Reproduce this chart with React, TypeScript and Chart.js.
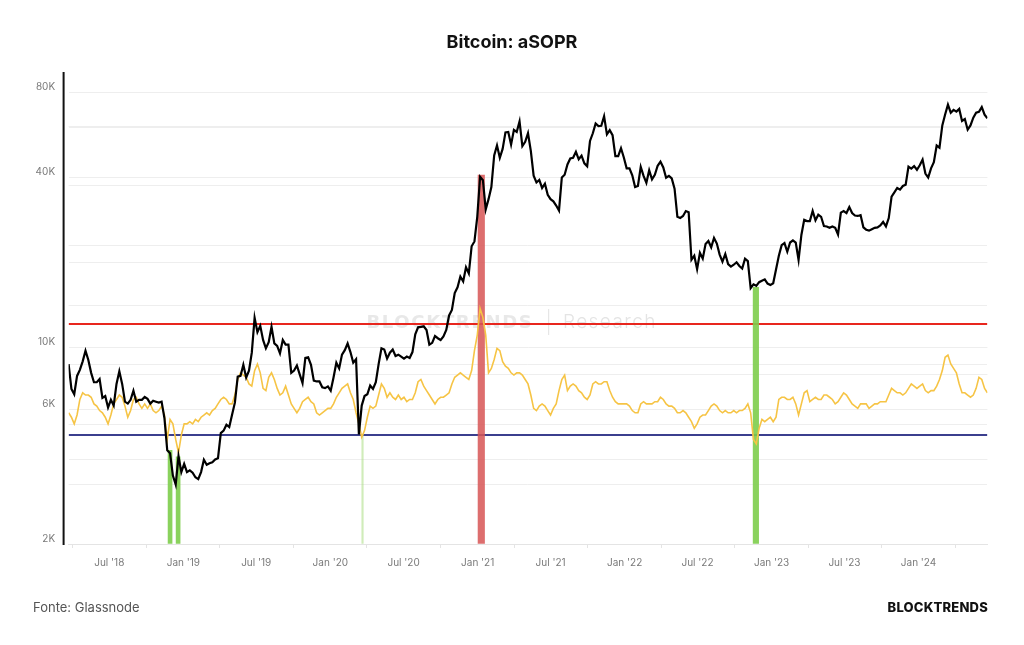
import { useEffect, useRef } from 'react';
import { Chart, registerables } from 'chart.js';

Chart.register(...registerables);

const DAY_MS = 86400000;
const toDay = (iso: string) => Date.parse(iso + 'T00:00:00Z') / DAY_MS;

// Weekly samples (Thursdays), first one on this date
const SERIES_START = '2018-03-22';
const SERIES_END = '2024-06-20';

// BTC price (USD), one value per week
const price2018 = [
  8700, 7100, 6800, 7900, 8300, 8900, 9700, 9000, 8100, 7500, 7500, 7700, 6600, 6700, 6100,
  6500, 6200, 7400, 8200, 7400, 6400, 6300, 6500, 7000, 6400, 6500, 6500, 6650, 6550, 6300,
  6450, 6400, 6350, 6400, 5600, 4300, 4200, 3500, 3250, 4100, 3600,
];
const price2019 = [
  3850, 3600, 3650, 3580, 3450, 3400, 3600, 3980, 3820, 3870, 3900, 3990, 4030, 4950, 5050,
  5300, 5200, 5750, 6350, 7850, 7900, 8650, 7800, 8250, 9550, 12700, 11300, 11900, 10600, 9900,
  10400, 11800, 10300, 10100, 9500, 10600, 10200, 10200, 8100, 8250, 8600, 8000, 7450, 9150,
  9200, 8650, 7600, 7550, 7550, 7200, 7150, 7250,
];
const price2020 = [
  7000, 7800, 8800, 8400, 9400, 9750, 10300, 9600, 8800, 9050, 4900, 6200, 6700, 6800, 7300,
  7100, 7500, 8700, 9900, 9800, 9100, 9550, 9800, 9300, 9400, 9250, 9100, 9250, 9150, 9600,
  11100, 11750, 11800, 11850, 11500, 10200, 10350, 10950, 10750, 10600, 10900, 11500, 12950,
  13550, 15550, 16300, 17800, 17100, 19200, 18250, 22800, 23700, 29000,
];
const price2021 = [
  40200, 39100, 30800, 33500, 37000, 47900, 52000, 47000, 50500, 57800, 58000, 52300, 59000,
  58000, 63200, 51700, 53500, 57400, 49700, 40600, 38400, 39200, 36700, 38000, 34700, 33500,
  32900, 31800, 30500, 40000, 40900, 44500, 46700, 47000, 49300, 46400, 47800, 44900, 43800,
  53900, 57400, 62200, 60900, 61000, 66000, 56900, 58900, 56500, 47600, 47600, 50800, 47100,
];
const price2022 = [
  43100, 43100, 40700, 37000, 37300, 43600, 40500, 38300, 42400, 39400, 40900, 44000, 45500,
  43400, 39900, 40500, 39700, 36500, 29000, 28700, 29200, 30400, 30100, 20400, 21100, 18900,
  21600, 20600, 23200, 23800, 22600, 24400, 23300, 21300, 20100, 21400, 19700, 19300, 19600,
  20000, 19400, 19000, 20600, 20200, 16200, 16700, 16500, 17000, 17200, 17400, 16800, 16600,
];
const price2023 = [
  16850, 18850, 21100, 23000, 23400, 21800, 23500, 23900, 23500, 20400, 25000, 28300, 28000,
  28000, 30400, 28200, 29500, 29000, 26900, 26800, 26500, 26800, 26500, 25100, 30000, 30400,
  29900, 31400, 29900, 29300, 29200, 29400, 26600, 26100, 25900, 26200, 26500, 26600, 27000,
  27800, 26800, 28700, 34200, 35400, 36700, 36200, 37300, 37700, 43700, 43000, 43900, 42600,
];
const price2024 = [
  44200, 46300, 41300, 40000, 43100, 45300, 51900, 51000, 61200, 66900, 72500, 67900, 69500,
  68500, 70000, 63500, 64500, 59100, 61200, 65200, 67900, 68400, 71100, 66800, 64900,
];

// aSOPR (smoothed), one value per week
const asopr2018 = [
  1.010, 1.008, 1.005, 1.009, 1.016, 1.019, 1.018, 1.018, 1.017, 1.014, 1.013, 1.011, 1.010,
  1.008, 1.005, 1.009, 1.014, 1.016, 1.018, 1.017, 1.013, 1.008, 1.011, 1.016, 1.017, 1.014,
  1.012, 1.014, 1.012, 1.014, 1.011, 1.010, 1.011, 1.013, 1.009, 0.998, 1.007, 1.005, 0.998,
  0.992, 1.000,
];
const asopr2019 = [
  1.005, 1.005, 1.006, 1.005, 1.007, 1.006, 1.008, 1.009, 1.010, 1.009, 1.011, 1.012, 1.014,
  1.016, 1.017, 1.016, 1.014, 1.014, 1.018, 1.025, 1.028, 1.027, 1.026, 1.023, 1.022, 1.029,
  1.032, 1.028, 1.021, 1.020, 1.026, 1.028, 1.025, 1.021, 1.018, 1.019, 1.022, 1.018, 1.014,
  1.012, 1.010, 1.012, 1.015, 1.016, 1.017, 1.015, 1.014, 1.010, 1.009, 1.010, 1.011, 1.012,
];
const asopr2020 = [
  1.012, 1.014, 1.017, 1.019, 1.021, 1.022, 1.023, 1.019, 1.016, 1.010, 1.005, 0.999, 1.002,
  1.008, 1.013, 1.012, 1.013, 1.018, 1.023, 1.021, 1.017, 1.019, 1.017, 1.016, 1.018, 1.016,
  1.017, 1.015, 1.016, 1.016, 1.019, 1.024, 1.025, 1.022, 1.020, 1.018, 1.016, 1.014, 1.016,
  1.017, 1.017, 1.018, 1.019, 1.023, 1.026, 1.027, 1.028, 1.027, 1.026, 1.025, 1.029, 1.038,
  1.045,
];
const asopr2021 = [
  1.057, 1.053, 1.045, 1.028, 1.030, 1.034, 1.039, 1.038, 1.033, 1.031, 1.030, 1.028, 1.027,
  1.028, 1.028, 1.027, 1.025, 1.023, 1.018, 1.012, 1.011, 1.013, 1.014, 1.013, 1.011, 1.009,
  1.012, 1.014, 1.020, 1.025, 1.027, 1.020, 1.022, 1.023, 1.022, 1.020, 1.019, 1.017, 1.016,
  1.018, 1.023, 1.024, 1.023, 1.023, 1.024, 1.024, 1.020, 1.017, 1.015, 1.014, 1.014, 1.014,
];
const asopr2022 = [
  1.014, 1.013, 1.011, 1.010, 1.010, 1.014, 1.015, 1.014, 1.014, 1.014, 1.015, 1.015, 1.017,
  1.016, 1.014, 1.013, 1.013, 1.012, 1.010, 1.010, 1.011, 1.010, 1.008, 1.006, 1.003, 1.005,
  1.008, 1.009, 1.009, 1.011, 1.013, 1.014, 1.013, 1.011, 1.010, 1.011, 1.010, 1.010, 1.011,
  1.010, 1.011, 1.011, 1.012, 1.014, 1.010, 0.998, 0.996, 1.003, 1.007, 1.006, 1.007, 1.008,
];
const asopr2023 = [
  1.006, 1.008, 1.016, 1.017, 1.017, 1.016, 1.016, 1.017, 1.014, 1.009, 1.014, 1.019, 1.020,
  1.015, 1.016, 1.017, 1.016, 1.016, 1.018, 1.018, 1.017, 1.016, 1.014, 1.015, 1.017, 1.019,
  1.018, 1.016, 1.014, 1.013, 1.012, 1.014, 1.014, 1.014, 1.012, 1.013, 1.014, 1.014, 1.015,
  1.015, 1.015, 1.018, 1.021, 1.020, 1.019, 1.019, 1.018, 1.019, 1.021, 1.023, 1.022, 1.021,
];
const asopr2024 = [
  1.022, 1.023, 1.020, 1.019, 1.020, 1.020, 1.022, 1.025, 1.029, 1.035, 1.036, 1.032, 1.030,
  1.028, 1.023, 1.019, 1.019, 1.018, 1.017, 1.018, 1.021, 1.026, 1.025, 1.021, 1.019,
];

// Highlighted days, drawn as bars rising to the price
const capitulationDays = ['2018-11-29', '2018-12-19'];
const capitulationPrices = [4300, 4080];
const minorCapitulationDays = ['2020-03-21'];
const minorCapitulationPrices = [4900];
const euphoriaDays = ['2021-01-10'];
const euphoriaPrices = [40800];
const bottomDays = ['2022-11-23'];
const bottomPrices = [16300];

// aSOPR reference levels
const SOPR_BREAKEVEN = 1.0;
const SOPR_EUPHORIA = 1.05;

// Axis ticks
const xTickDays = [
  '2018-07-01', '2019-01-01', '2019-07-01', '2020-01-01', '2020-07-01', '2021-01-01',
  '2021-07-01', '2022-01-01', '2022-07-01', '2023-01-01', '2023-07-01', '2024-01-01',
];
const xTickLabels = [
  "Jul '18", "Jan '19", "Jul '19", "Jan '20", "Jul '20", "Jan '21",
  "Jul '21", "Jan '22", "Jul '22", "Jan '23", "Jul '23", "Jan '24",
];
const priceTicks = [2000, 4000, 6000, 8000, 10000, 20000, 40000, 60000, 80000];
const priceTickLabels: Record<number, string> = {
  2000: '2K', 6000: '6K', 10000: '10K', 40000: '40K', 80000: '80K',
};

const PRICE_MIN = 2000;
const PRICE_MAX = 94700;
const SOPR_MIN = 0.9509;
const SOPR_MAX = 1.1635;
const SOPR_GRID_STEP = 0.02689;

const priceWeekly = [
  ...price2018, ...price2019, ...price2020, ...price2021, ...price2022, ...price2023, ...price2024,
];
const asoprWeekly = [
  ...asopr2018, ...asopr2019, ...asopr2020, ...asopr2021, ...asopr2022, ...asopr2023, ...asopr2024,
];

const GRID = '#eeeeee';

const watermark = {
  id: 'watermark',
  beforeDatasetsDraw(chart: any) {
    const { ctx } = chart;
    const cx = chart.width / 2;
    ctx.save();
    ctx.textBaseline = 'alphabetic';
    ctx.font = '700 18px "DejaVu Sans"';
    ctx.fillStyle = '#e8e8e8';
    ctx.textAlign = 'right';
    (ctx as any).letterSpacing = '1.7px';
    ctx.fillText('BLOCKTRENDS', cx + 21.5, 328);
    ctx.fillStyle = '#e6e6e6';
    ctx.fillRect(cx + 36, 309, 1.2, 26);
    ctx.textAlign = 'left';
    ctx.font = '300 19px Inter';
    (ctx as any).letterSpacing = '1.4px';
    ctx.fillStyle = '#e4e4e4';
    ctx.fillText('Research', cx + 51, 328);
    ctx.restore();
  },
};

const leftRule = {
  id: 'leftRule',
  afterDraw(chart: any) {
    const { ctx, chartArea } = chart;
    ctx.save();
    ctx.strokeStyle = '#111111';
    ctx.lineWidth = 2;
    ctx.beginPath();
    ctx.moveTo(chartArea.left - 5, chartArea.top);
    ctx.lineTo(chartArea.left - 5, chartArea.bottom + 1);
    ctx.stroke();
    ctx.restore();
  },
};

function barSet(days: string[], prices: number[], color: string, thickness: number) {
  return {
    type: 'bar' as const,
    data: days.map((d, i) => ({ x: toDay(d), y: prices[i] })),
    yAxisID: 'y',
    backgroundColor: color,
    borderWidth: 0,
    barThickness: thickness,
    grouped: false,
    base: PRICE_MIN,
    order: 2,
  };
}

export default function App() {
  const canvasRef = useRef<HTMLCanvasElement>(null);

  useEffect(() => {
    document.body.style.margin = '0';
    Chart.defaults.font.family = 'Inter, "Noto Sans", sans-serif';
    const start = toDay(SERIES_START);
    const end = toDay(SERIES_END);
    const priceData = priceWeekly.map((p, i) => ({ x: start + i * 7, y: p }));
    const soprData = asoprWeekly.map((v, i) => ({ x: start + i * 7, y: v }));
    const tickByDay: Record<string, string> = {};
    xTickDays.forEach((d, i) => { tickByDay[String(toDay(d))] = xTickLabels[i]; });

    const chart = new Chart(canvasRef.current!, {
      type: 'line',
      data: {
        datasets: [
          {
            label: 'BTC price',
            data: priceData,
            yAxisID: 'y',
            borderColor: '#000000',
            borderWidth: 2.2,
            pointRadius: 0,
            tension: 0,
            order: 0,
          },
          {
            label: 'aSOPR',
            data: soprData,
            yAxisID: 'y2',
            borderColor: '#f6c445',
            borderWidth: 1.6,
            pointRadius: 0,
            tension: 0,
            order: 1,
          },
          barSet(capitulationDays, capitulationPrices, 'rgba(125, 205, 75, 0.9)', 4),
          barSet(minorCapitulationDays, minorCapitulationPrices, 'rgba(170, 220, 130, 0.55)', 1.5),
          barSet(euphoriaDays, euphoriaPrices, 'rgba(215, 85, 85, 0.85)', 6.5),
          barSet(bottomDays, bottomPrices, 'rgba(125, 205, 75, 0.9)', 5.5),
          {
            label: 'aSOPR euphoria',
            data: [{ x: start, y: SOPR_EUPHORIA }, { x: end, y: SOPR_EUPHORIA }],
            yAxisID: 'y2',
            borderColor: '#e8261e',
            borderWidth: 2,
            pointRadius: 0,
            order: 3,
          },
          {
            label: 'aSOPR breakeven',
            data: [{ x: start, y: SOPR_BREAKEVEN }, { x: end, y: SOPR_BREAKEVEN }],
            yAxisID: 'y2',
            borderColor: '#3b3f8e',
            borderWidth: 2,
            pointRadius: 0,
            order: 3,
          },
        ] as any,
      },
      options: {
        animation: false,
        responsive: false,
        events: [],
        layout: { padding: { left: 0, right: 36.6, top: 72, bottom: 61 } },
        plugins: { legend: { display: false }, tooltip: { enabled: false }, title: { display: false } },
        scales: {
          x: {
            type: 'linear',
            min: start,
            max: end,
            offset: false,
            afterBuildTicks: (scale: any) => {
              scale.ticks = xTickDays.map((d) => ({ value: toDay(d) }));
            },
            afterFit: (scale: any) => { scale.height = 40; },
            grid: { drawOnChartArea: false, drawTicks: true, tickLength: 4, color: '#e4e4e4' },
            border: { display: true, color: '#e4e4e4', width: 1 },
            ticks: {
              autoSkip: false,
              maxRotation: 0,
              padding: 9,
              color: '#7a7a7a',
              font: { size: 10 },
              callback: (v: any) => tickByDay[String(v)] ?? '',
            },
          },
          y: {
            type: 'logarithmic',
            position: 'left',
            min: PRICE_MIN,
            max: PRICE_MAX,
            afterBuildTicks: (scale: any) => {
              scale.ticks = priceTicks.map((v) => ({ value: v }));
            },
            afterFit: (scale: any) => { scale.width = 68.6; },
            grid: { color: GRID, drawTicks: false },
            border: { display: false },
            ticks: {
              autoSkip: false,
              padding: 13.5,
              labelOffset: -5.5,
              color: '#7a7a7a',
              font: { size: 10 },
              callback: (v: any) => priceTickLabels[Number(v)] ?? '',
            },
          },
          y2: {
            type: 'linear',
            position: 'right',
            min: SOPR_MIN,
            max: SOPR_MAX,
            afterBuildTicks: (scale: any) => {
              const ticks = [];
              for (let v = SOPR_MIN; v <= SOPR_MAX; v += SOPR_GRID_STEP) ticks.push({ value: v });
              scale.ticks = ticks;
            },
            afterFit: (scale: any) => { scale.width = 0; },
            grid: { color: GRID, drawTicks: false },
            border: { display: false },
            ticks: { display: false },
          },
        },
      } as any,
      plugins: [watermark, leftRule],
    });
    return () => chart.destroy();
  }, []);

  return (
    <div
      style={{
        position: 'relative',
        width: 1024,
        height: 645,
        background: '#ffffff',
        overflow: 'hidden',
        fontFamily: 'Inter, "Noto Sans", sans-serif',
      }}
    >
      <canvas
        ref={canvasRef}
        width={1024}
        height={645}
        style={{ position: 'absolute', left: 0, top: 0, width: 1024, height: 645 }}
      />
      <div
        style={{
          position: 'absolute',
          top: 31,
          left: 0,
          width: 1024,
          textAlign: 'center',
          fontSize: 18,
          lineHeight: '22px',
          fontWeight: 700,
          color: '#111111',
        }}
      >
        Bitcoin: aSOPR
      </div>
      <div
        style={{
          position: 'absolute',
          top: 599,
          left: 33,
          fontSize: 13,
          lineHeight: '16px',
          color: '#555555',
        }}
      >
        Fonte: Glassnode
      </div>
      <div
        style={{
          position: 'absolute',
          top: 599,
          right: 36,
          fontSize: 13,
          lineHeight: '16px',
          fontWeight: 800,
          letterSpacing: '0.2px',
          color: '#111111',
        }}
      >
        BLOCKTRENDS
      </div>
    </div>
  );
}
